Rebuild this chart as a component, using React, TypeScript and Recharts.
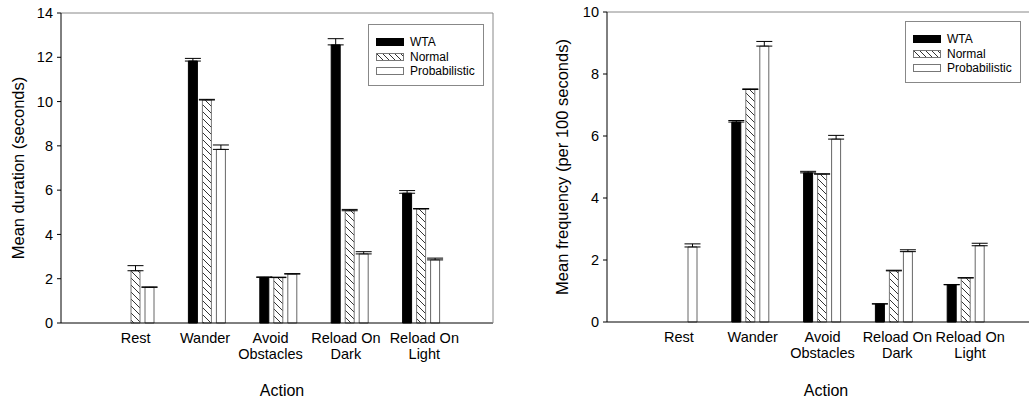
import React from 'react';
import { BarChart, Bar, XAxis, YAxis, ErrorBar, Legend } from 'recharts';

// categories and tick labels
const categories = ['Rest', 'Wander', 'Avoid Obstacles', 'Reload On Dark', 'Reload On Light'];
const tickLines = [['Rest'], ['Wander'], ['Avoid', 'Obstacles'], ['Reload On', 'Dark'], ['Reload On', 'Light']];
const durationTicks = [0, 2, 4, 6, 8, 10, 12, 14];
const frequencyTicks = [0, 2, 4, 6, 8, 10];

// mean duration (seconds)
const durationWTA = [0, 11.83, 2.06, 12.56, 5.86];
const durationWTAErr = [0, 0.12, 0.02, 0.28, 0.12];
const durationNormal = [2.36, 10.07, 2.05, 5.07, 5.15];
const durationNormalErr = [0.23, 0.03, 0.02, 0.06, 0.02];
const durationProb = [1.61, 7.84, 2.21, 3.12, 2.85];
const durationProbErr = [0.02, 0.2, 0.02, 0.1, 0.08];

// mean frequency (per 100 seconds)
const freqWTA = [0, 6.45, 4.81, 0.58, 1.2];
const freqWTAErr = [0, 0.05, 0.05, 0.01, 0.01];
const freqNormal = [0, 7.5, 4.77, 1.65, 1.42];
const freqNormalErr = [0, 0.02, 0.01, 0.02, 0.01];
const freqProb = [2.42, 8.9, 5.9, 2.27, 2.46];
const freqProbErr = [0.1, 0.15, 0.12, 0.06, 0.08];

const FONT = '"Liberation Sans", Arial, sans-serif';

const buildRows = (w: number[], we: number[], n: number[], ne: number[], p: number[], pe: number[]) =>
  categories.map((name, i) => ({
    name,
    wta: w[i],
    wtaErr: [0, we[i]],
    normal: n[i],
    normalErr: [0, ne[i]],
    prob: p[i],
    probErr: [0, pe[i]],
  }));

const durationData = buildRows(durationWTA, durationWTAErr, durationNormal, durationNormalErr, durationProb, durationProbErr);
const frequencyData = buildRows(freqWTA, freqWTAErr, freqNormal, freqNormalErr, freqProb, freqProbErr);

// small nudges of the category labels, as in the original figure
const leftShift = [0, -2, -8, -4, 3];
const rightShift = [0, 2, 0, 3, 4];

const makeTick = (shift: number[]) => (props: any) => {
  const { x, y, index } = props;
  const lines = tickLines[index] || [];
  const cx = x + (shift[index] || 0);
  return (
    <text x={cx} y={y} textAnchor="middle" fontSize={14.5} fontFamily={FONT} fill="#000">
      {lines.map((l, i) => (
        <tspan key={i} x={cx} y={y + 20 + i * 16}>{l}</tspan>
      ))}
    </text>
  );
};

const HATCH_PATH = 'M0,0 L7,7 M-3.5,3.5 L3.5,10.5 M3.5,-3.5 L10.5,3.5';

const Hatch = ({ id }: { id: string }) => (
  <defs>
    <pattern id={id} patternUnits="userSpaceOnUse" width={7} height={7}>
      <rect width={7} height={7} fill="#fff" />
      <path d={HATCH_PATH} stroke="#333" strokeWidth={1} />
    </pattern>
  </defs>
);

const legendItems = [
  { label: 'WTA', kind: 'solid' },
  { label: 'Normal', kind: 'hatch' },
  { label: 'Probabilistic', kind: 'open' },
];

const LegendBox = () => (
  <div
    style={{
      width: 116,
      height: 62,
      border: '1px solid #888',
      boxSizing: 'border-box',
      background: '#fff',
      position: 'relative',
      fontFamily: FONT,
      fontSize: 12,
    }}
  >
    {legendItems.map((it, i) => (
      <div key={it.label} style={{ position: 'absolute', left: 7, top: 11 + i * 14.5, height: 12, display: 'flex', alignItems: 'center' }}>
        <svg width={28} height={8} style={{ display: 'block' }}>
          <defs>
            <pattern id={'lgHatch' + i} patternUnits="userSpaceOnUse" width={6} height={6}>
              <path d="M0,0 L6,6 M-3,3 L3,9 M3,-3 L9,3" stroke="#333" strokeWidth={1} />
            </pattern>
          </defs>
          <rect
            x={0.5}
            y={0.5}
            width={27}
            height={7}
            fill={it.kind === 'solid' ? '#000' : it.kind === 'hatch' ? `url(#lgHatch${i})` : '#fff'}
            stroke={it.kind === 'solid' ? '#000' : '#777'}
          />
        </svg>
        <span style={{ marginLeft: 6, lineHeight: '12px', color: '#000' }}>{it.label}</span>
      </div>
    ))}
  </div>
);

interface PanelProps {
  data: any[];
  width: number;
  margin: { top: number; right: number; bottom: number; left: number };
  yWidth: number;
  domainMax: number;
  ticks: number[];
  padding: { left: number; right: number };
  hatchId: string;
  yTitle: string;
  yTitleX: number;
  xTitleX: number;
  shift: number[];
  legendPos: { left: number; top: number };
  rightBorder: boolean;
}

const Panel = (p: PanelProps) => {
  const plotTop = p.margin.top + 1;
  const plotBottom = 401 - p.margin.bottom - 1;
  return (
    <BarChart width={p.width} height={401} data={p.data} margin={p.margin} barSize={9} barGap={5}>
      <Hatch id={p.hatchId} />
      <XAxis
        dataKey="name"
        height={1}
        axisLine={{ stroke: '#000' }}
        tickLine={false}
        tickSize={0}
        tickMargin={0}
        padding={p.padding}
        interval={0}
        tick={makeTick(p.shift)}
      />
      <XAxis xAxisId="top" orientation="top" dataKey="name" height={1} tick={false} tickLine={false} axisLine={{ stroke: '#888' }} />
      <YAxis
        domain={[0, p.domainMax]}
        ticks={p.ticks}
        width={p.yWidth}
        tickSize={4}
        tickMargin={4}
        axisLine={{ stroke: '#000' }}
        tickLine={{ stroke: '#000' }}
        tick={{ fontSize: 14.5, fontFamily: FONT, fill: '#000' }}
        interval={0}
      />
      {p.rightBorder && (
        <YAxis yAxisId="right" orientation="right" domain={[0, p.domainMax]} width={1} tick={false} tickLine={false} axisLine={{ stroke: '#888' }} />
      )}
      <Legend
        layout="vertical"
        align="center"
        verticalAlign="middle"
        content={() => <LegendBox />}
        wrapperStyle={{ left: p.legendPos.left, top: p.legendPos.top, width: 116, height: 62 }}
      />
      <Bar dataKey="wta" fill="#000" stroke="#000" strokeWidth={1} isAnimationActive={false}>
        <ErrorBar dataKey="wtaErr" direction="y" width={8} stroke="#000" strokeWidth={1} />
      </Bar>
      <Bar dataKey="normal" fill={`url(#${p.hatchId})`} stroke="#777" strokeWidth={1} isAnimationActive={false}>
        <ErrorBar dataKey="normalErr" direction="y" width={8} stroke="#000" strokeWidth={1} />
      </Bar>
      <Bar dataKey="prob" fill="#fff" stroke="#666" strokeWidth={1} isAnimationActive={false}>
        <ErrorBar dataKey="probErr" direction="y" width={8} stroke="#000" strokeWidth={1} />
      </Bar>
      <text
        x={p.yTitleX}
        y={(plotTop + plotBottom) / 2}
        transform={`rotate(-90 ${p.yTitleX} ${(plotTop + plotBottom) / 2})`}
        textAnchor="middle"
        dominantBaseline="central"
        fontSize={16.5}
        fontFamily={FONT}
        fill="#000"
      >
        {p.yTitle}
      </text>
      <text x={p.xTitleX} y={396} textAnchor="middle" fontSize={16} fontFamily={FONT} fill="#000">
        Action
      </text>
    </BarChart>
  );
};

export default function App() {
  return (
    <div style={{ position: 'absolute', left: 0, top: 0, width: 1029, height: 401, overflow: 'hidden', background: '#fff' }}>
      <div style={{ position: 'absolute', left: 0, top: 0 }}>
        <Panel
          data={durationData}
          width={520}
          margin={{ top: 12, right: 26, bottom: 77, left: 0 }}
          yWidth={61}
          domainMax={14}
          ticks={durationTicks}
          padding={{ left: 39, right: 36 }}
          hatchId="hatchLeft"
          yTitle="Mean duration (seconds)"
          yTitleX={17.5}
          xTitleX={282}
          shift={leftShift}
          legendPos={{ left: 368, top: 24 }}
          rightBorder={true}
        />
      </div>
      <div style={{ position: 'absolute', left: 520, top: 0 }}>
        <Panel
          data={frequencyData}
          width={530}
          margin={{ top: 11, right: 12, bottom: 78, left: 0 }}
          yWidth={87}
          domainMax={10}
          ticks={frequencyTicks}
          padding={{ left: 36, right: 36 }}
          hatchId="hatchRight"
          yTitle="Mean frequency (per 100 seconds)"
          yTitleX={41.5}
          xTitleX={306}
          shift={rightShift}
          legendPos={{ left: 385, top: 21 }}
          rightBorder={false}
        />
      </div>
    </div>
  );
}
